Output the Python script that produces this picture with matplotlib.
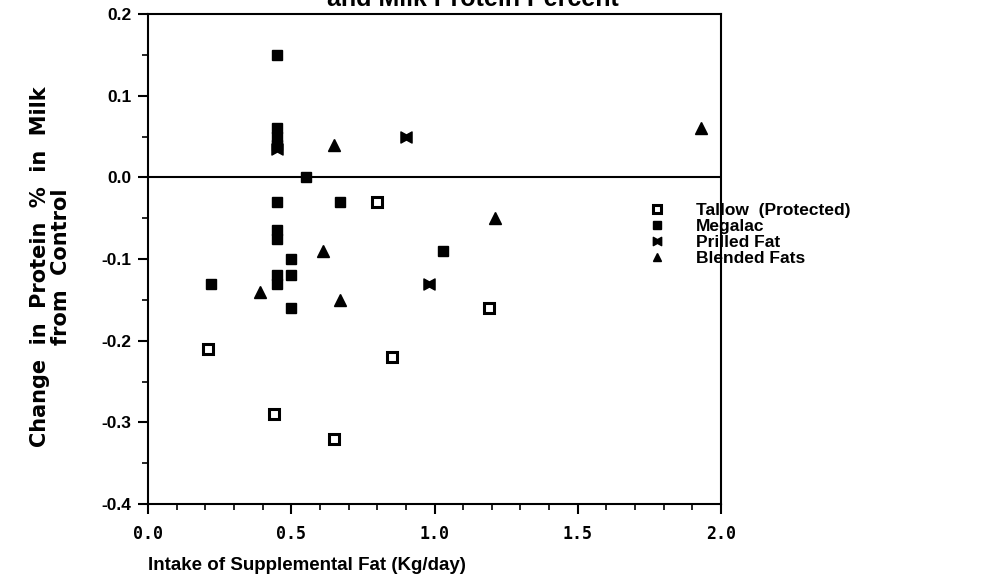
import matplotlib
matplotlib.use("Agg")
import matplotlib.pyplot as plt
from matplotlib.path import Path
from matplotlib.ticker import MultipleLocator, FixedLocator
import numpy as np

# values
tallow_x = [0.21, 0.44, 0.65, 0.80, 0.85, 1.19]
tallow_y = [-0.21, -0.29, -0.32, -0.03, -0.22, -0.16]

megalac_x = [0.22, 0.45, 0.45, 0.45, 0.45, 0.45, 0.45, 0.45, 0.45, 0.45,
             0.50, 0.50, 0.50, 0.55, 0.67, 1.03]
megalac_y = [-0.13, 0.15, 0.06, 0.05, 0.04, -0.03, -0.065, -0.075, -0.12, -0.13,
             -0.10, -0.12, -0.16, 0.0, -0.03, -0.09]

prilled_x = [0.45, 0.90, 0.98]
prilled_y = [0.035, 0.05, -0.13]

blended_x = [0.39, 0.61, 0.65, 0.67, 1.21, 1.93]
blended_y = [-0.14, -0.09, 0.04, -0.15, -0.05, 0.06]

x_ticks = [0.0, 0.5, 1.0, 1.5, 2.0]
y_ticks = [-0.4, -0.3, -0.2, -0.1, 0.0, 0.1, 0.2]

plt.rcParams['font.family'] = ['Liberation Sans', 'DejaVu Sans']
plt.rcParams['font.weight'] = 'bold'

# bowtie marker for prilled fat (square notched top and bottom)
bowtie = Path([(-1, -1), (0, -0.45), (1, -1), (1, 1), (0, 0.45), (-1, 1), (-1, -1)],
              [Path.MOVETO] + [Path.LINETO] * 5 + [Path.CLOSEPOLY])

fig = plt.figure(figsize=(9.81, 5.87), dpi=100)
ax = fig.add_axes([148 / 981, 83 / 587, 573 / 981, 490 / 587])

ax.plot(tallow_x, tallow_y, ls='none', marker='s', ms=7, mfc='white', mec='black',
        mew=2.2, label='Tallow  (Protected)')
ax.plot(megalac_x, megalac_y, ls='none', marker='s', ms=7.5, color='black', label='Megalac')
ax.plot(prilled_x, prilled_y, ls='none', marker=bowtie, ms=8, color='black', label='Prilled Fat')
ax.plot(blended_x, blended_y, ls='none', marker='^', ms=8.5, color='black', label='Blended Fats')

ax.axhline(0, color='black', lw=1.5, zorder=1)

ax.set_xlim(0, 2.0)
ax.set_ylim(-0.4, 0.2)
for s in ax.spines.values():
    s.set_linewidth(1.5)

ax.xaxis.set_major_locator(FixedLocator(x_ticks))
ax.xaxis.set_minor_locator(MultipleLocator(0.1))
ax.yaxis.set_major_locator(FixedLocator(y_ticks))
ax.yaxis.set_minor_locator(MultipleLocator(0.05))
ax.tick_params(which='major', direction='out', length=7, width=1.5)
ax.tick_params(which='minor', direction='out', length=4, width=1.2)
ax.tick_params(axis='y', pad=5)
ax.tick_params(axis='x', pad=8)

ax.set_xticklabels(['%.1f' % v for v in x_ticks], family='DejaVu Sans Mono',
                   fontsize=12, fontweight='bold')
ax.set_yticklabels(['%.1f' % v for v in y_ticks], fontsize=12.5, fontweight='bold')

# x label sits left of centre in the scan
ax.text(0.0, -0.125, 'Intake of Supplemental Fat (Kg/day)', transform=ax.transAxes,
        fontsize=13.5, fontweight='bold', ha='left', va='center')

fig.text(40 / 981, 1 - 267 / 587, 'Change  in  Protein  %  in  Milk', rotation=90,
         ha='center', va='center', family='DejaVu Sans', fontsize=15, fontweight='bold')
fig.text(61 / 981, 1 - 267 / 587, 'from  Control', rotation=90,
         ha='center', va='center', family='DejaVu Sans', fontsize=15, fontweight='bold')

# title is cut off at the top edge of the scan
fig.text(473 / 981, 1 - 6 / 587, 'and Milk Protein Percent', ha='center',
         va='baseline', fontsize=18, fontweight='bold')

fig.legend(loc='upper left', bbox_to_anchor=(640 / 981, 1 - 196 / 587),
           frameon=False, fontsize=12.5, handletextpad=1.6, labelspacing=0.05,
           handlelength=1.2, markerscale=0.75, borderaxespad=0)

fig.savefig('out.png', dpi=100)
